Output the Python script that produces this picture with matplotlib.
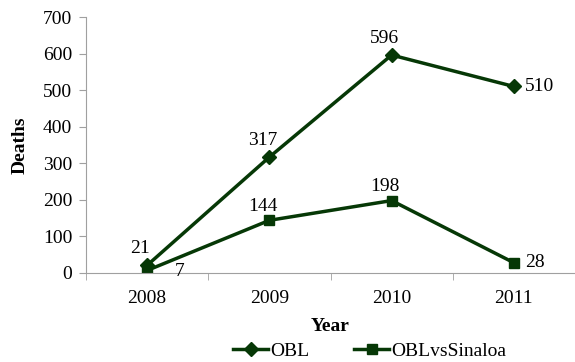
import matplotlib.pyplot as plt
import numpy as np

years = ['2008', '2009', '2010', '2011']
obl = [21, 317, 596, 510]
obl_vs_sinaloa = [7, 144, 198, 28]

plt.rcParams['font.family'] = ['Liberation Serif', 'DejaVu Serif']
green = '#063806'
grey = '#a0a0a0'
fs = 14

fig = plt.figure(figsize=(5.75, 3.62), dpi=100)
ax = fig.add_axes([0.1496, 0.2459, 0.8504, 0.7071])

x = np.arange(len(years))
ax.plot(x, obl, color=green, lw=2.5, marker='D', ms=7, label='OBL')
ax.plot(x, obl_vs_sinaloa, color=green, lw=2.5, marker='s', ms=7, label='OBLvsSinaloa')

# value labels: most above the point, a few to the right
for i, v in enumerate(obl):
    if i == 3:
        ax.annotate(str(v), (i, v), xytext=(8, 0), textcoords='offset points',
                    ha='left', va='center', fontsize=fs)
    else:
        ax.annotate(str(v), (i, v), xytext=(-5, 6), textcoords='offset points',
                    ha='center', va='bottom', fontsize=fs)
for i, v in enumerate(obl_vs_sinaloa):
    if i == 0:
        ax.annotate(str(v), (i, v), xytext=(20, -1), textcoords='offset points',
                    ha='left', va='center', fontsize=fs)
    elif i == 3:
        ax.annotate(str(v), (i, v), xytext=(8, 0), textcoords='offset points',
                    ha='left', va='center', fontsize=fs)
    else:
        ax.annotate(str(v), (i, v), xytext=(-5, 4), textcoords='offset points',
                    ha='center', va='bottom', fontsize=fs)

ax.set_xlim(-0.5, 3.46)
ax.set_ylim(0, 700)
ax.set_yticks(range(0, 701, 100))
ax.set_xticks(x)
ax.set_xticklabels(years)
ax.set_xticks(np.arange(-0.5, 3.6, 1), minor=True)
ax.tick_params(axis='x', which='major', length=0, pad=12.5, labelsize=fs)
ax.tick_params(axis='x', which='minor', length=5, color=grey)
ax.tick_params(axis='y', length=5, color=grey, labelsize=fs, pad=5)

for s in ['top', 'right']:
    ax.spines[s].set_visible(False)
for s in ['left', 'bottom']:
    ax.spines[s].set_color(grey)

ax.set_ylabel('Deaths', fontsize=fs, fontweight='bold', labelpad=10)
ax.set_xlabel('Year', fontsize=fs, fontweight='bold', labelpad=8)

ax.legend(loc='upper center', bbox_to_anchor=(0.58, -0.27), ncol=2, frameon=False,
          fontsize=fs, handlelength=1.8, columnspacing=2.3, handletextpad=0.1,
          borderpad=0, borderaxespad=0)

fig.savefig('out.png', dpi=100)
